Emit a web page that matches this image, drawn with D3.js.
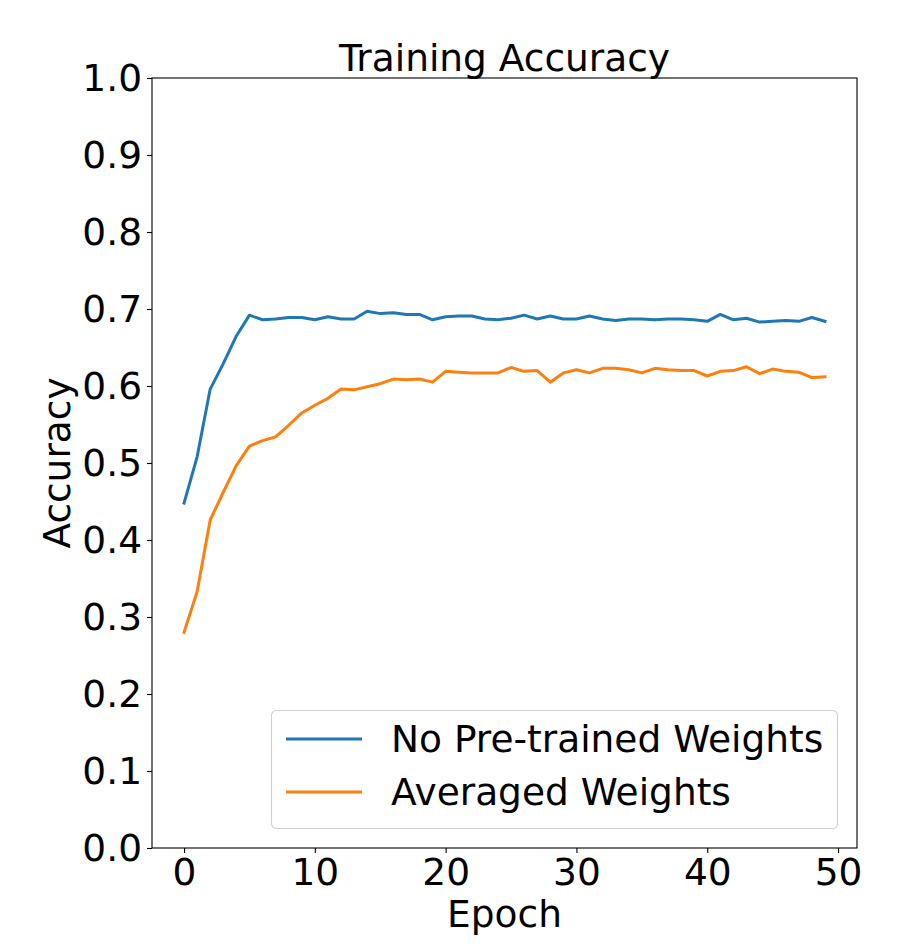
<!DOCTYPE html>
<meta charset="utf-8">
<style>
body{
	margin: 0px;
	background-color: #fff;
}
text{
	font-family: "DejaVu Sans", sans-serif;
	fill: #000;
}
</style>
<body></body>
<script src="https://cdn.jsdelivr.net/npm/d3@7"></script>
<script>

var epochs = d3.range(50)

var noPretrained = [0.448, 0.508, 0.596, 0.629, 0.665, 0.692, 0.686, 0.687, 0.689, 0.689,
	0.686, 0.690, 0.687, 0.687, 0.697, 0.694, 0.695, 0.693, 0.693, 0.686,
	0.690, 0.691, 0.691, 0.687, 0.686, 0.688, 0.692, 0.687, 0.691, 0.687,
	0.687, 0.691, 0.687, 0.685, 0.687, 0.687, 0.686, 0.687, 0.687, 0.686,
	0.684, 0.693, 0.686, 0.688, 0.683, 0.684, 0.685, 0.684, 0.689, 0.684]

var averaged = [0.280, 0.333, 0.426, 0.462, 0.497, 0.522, 0.529, 0.534, 0.549, 0.565,
	0.575, 0.584, 0.596, 0.595, 0.599, 0.603, 0.609, 0.608, 0.609, 0.605,
	0.619, 0.618, 0.617, 0.617, 0.617, 0.624, 0.619, 0.620, 0.605, 0.617,
	0.621, 0.617, 0.623, 0.623, 0.621, 0.617, 0.623, 0.621, 0.620, 0.620,
	0.613, 0.619, 0.620, 0.625, 0.616, 0.622, 0.619, 0.618, 0.611, 0.612]

var seriesNames = ['No Pre-trained Weights', 'Averaged Weights']
var seriesColors = ['#1f77b4', '#ff7f0e']
var xTicks = [0, 10, 20, 30, 40, 50]
var yTicks = d3.range(0, 11).map(function(d){ return d/10 })

var width = 900, height = 950
var margin = {left: 152, right: 43, top: 78, bottom: 102}
var fs = '37.5px'

var svg = d3.select('body').append('svg')
	.attr('width', width)
	.attr('height', height)

var x = d3.scaleLinear().domain([-2.45, 51.45]).range([margin.left, width - margin.right])
var y = d3.scaleLinear().domain([0, 1]).range([height - margin.bottom, margin.top])

// axes
svg.append('g')
	.attr('transform', 'translate(0,' + (height - margin.bottom) + ')')
	.call(d3.axisBottom(x).tickValues(xTicks).tickSize(5).tickPadding(5).tickSizeOuter(0))
svg.append('g')
	.attr('transform', 'translate(' + margin.left + ',0)')
	.call(d3.axisLeft(y).tickValues(yTicks).tickFormat(d3.format('.1f')).tickSize(5).tickPadding(5).tickSizeOuter(0))

svg.selectAll('.tick text')
	.style('font-family', '"DejaVu Sans", sans-serif')
	.style('font-size', fs)
svg.selectAll('.domain').remove()
svg.selectAll('.tick line').attr('stroke', '#000').attr('stroke-width', 1.1)

// lines
var line = d3.line()
	.x(function(d, i){ return x(epochs[i]) })
	.y(function(d){ return y(d) })

;[noPretrained, averaged].forEach(function(vals, k){
	svg.append('path')
		.datum(vals)
		.attr('d', line)
		.attr('fill', 'none')
		.attr('stroke', seriesColors[k])
		.attr('stroke-width', 3)
		.attr('stroke-linejoin', 'round')
		.attr('stroke-linecap', 'square')
})

// frame
svg.append('rect')
	.attr('x', margin.left)
	.attr('y', margin.top)
	.attr('width', width - margin.left - margin.right)
	.attr('height', height - margin.top - margin.bottom)
	.attr('fill', 'none')
	.attr('stroke', '#000')
	.attr('stroke-width', 1.1)

// title + labels
svg.append('text')
	.attr('x', (margin.left + width - margin.right)/2)
	.attr('y', 71)
	.attr('text-anchor', 'middle')
	.style('font-size', fs)
	.text('Training Accuracy')

svg.append('text')
	.attr('x', (margin.left + width - margin.right)/2)
	.attr('y', 927)
	.attr('text-anchor', 'middle')
	.style('font-size', fs)
	.text('Epoch')

svg.append('text')
	.attr('transform', 'translate(70,' + ((margin.top + height - margin.bottom)/2) + ') rotate(-90)')
	.attr('text-anchor', 'middle')
	.style('font-size', fs)
	.text('Accuracy')

// legend
var legend = svg.append('g')
legend.append('rect')
	.attr('x', 271.5)
	.attr('y', 710.5)
	.attr('width', 566)
	.attr('height', 118)
	.attr('rx', 5)
	.attr('fill', '#fff')
	.attr('fill-opacity', 0.8)
	.attr('stroke', '#d0d0d0')
	.attr('stroke-width', 1.1)

seriesNames.forEach(function(name, k){
	var ly = 739 + k*53
	legend.append('line')
		.attr('x1', 286).attr('x2', 362)
		.attr('y1', ly).attr('y2', ly)
		.attr('stroke', seriesColors[k])
		.attr('stroke-width', 3)
	legend.append('text')
		.attr('x', 391)
		.attr('y', ly + 13)
		.style('font-size', fs)
		.text(name)
})

</script>
